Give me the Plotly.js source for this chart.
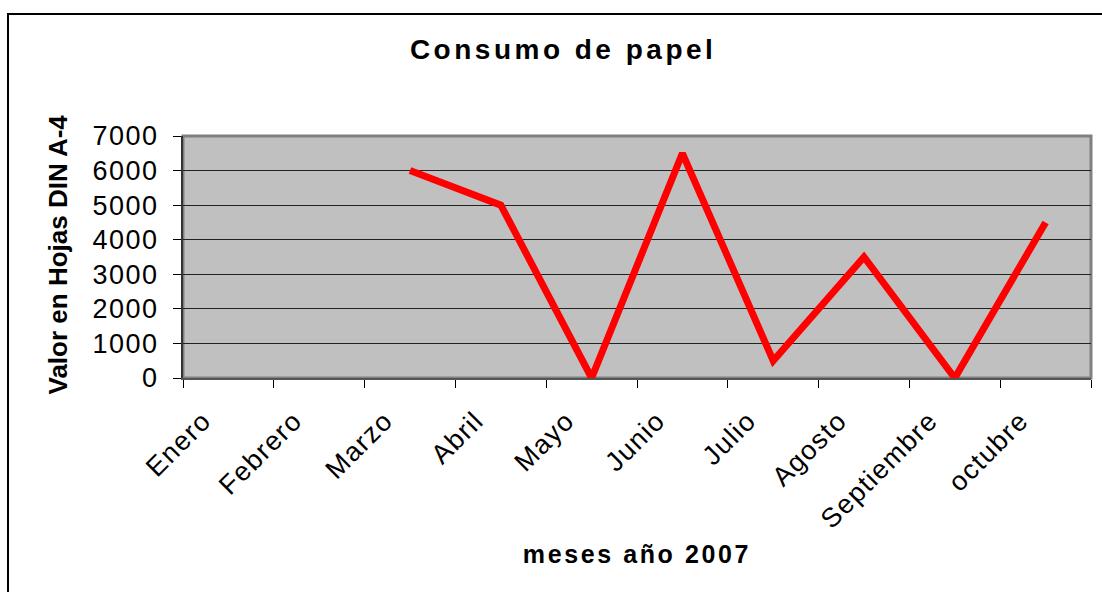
<!DOCTYPE html>
<html>
<head>
<meta charset="utf-8">
<script src="https://cdn.plot.ly/plotly-3.0.1.min.js"></script>
<style>
  html, body { margin: 0; padding: 0; background: #fff; }
  #chart { width: 1102px; height: 592px; }
  .gtitle { letter-spacing: 3.5px; }
  .ytick text { letter-spacing: 1.5px; }
  .xtick text { letter-spacing: 1.4px; }
  g.annotation[data-index="0"] text { letter-spacing: 2.6px; }
</style>
</head>
<body>
<div id="chart"></div>
<script>
const months = ["Enero", "Febrero", "Marzo", "Abril", "Mayo", "Junio", "Julio", "Agosto", "Septiembre", "octubre"];
const sheets = [null, null, 6000, 5000, 0, 6500, 500, 3500, 0, 4500];
const yTicks = [0, 1000, 2000, 3000, 4000, 5000, 6000, 7000];
const chartTitle = "Consumo de papel";
const xTitle = "meses año 2007";
const yTitle = "Valor en Hojas DIN A-4";

const FONT = "Liberation Sans, Arial, Helvetica, sans-serif";

const trace = {
  type: "scatter",
  mode: "lines",
  x: months,
  y: sheets,
  connectgaps: false,
  cliponaxis: false,
  line: { color: "#ff0000", width: 7, shape: "linear" },
  hoverinfo: "x+y"
};

const layout = {
  width: 1102,
  height: 592,
  margin: { l: 183, r: 11, t: 136, b: 214 },
  paper_bgcolor: "#ffffff",
  plot_bgcolor: "#c0c0c0",
  showlegend: false,
  font: { family: FONT, color: "#000" },
  title: {
    text: "<b>" + chartTitle + "</b>",
    font: { family: FONT, size: 28, color: "#000" },
    xref: "container", yref: "container",
    x: 0.511, xanchor: "center",
    y: 1 - 49 / 592, yanchor: "middle"
  },
  xaxis: {
    type: "category",
    categoryorder: "array",
    categoryarray: months,
    range: [-0.5, 9.5],
    tickson: "boundaries",
    ticks: "outside",
    ticklen: 8,
    tickwidth: 1,
    tickcolor: "#000",
    showline: true,
    linecolor: "#555",
    linewidth: 2,
    showgrid: false,
    zeroline: false,
    tickangle: -45,
    tickfont: { family: FONT, size: 27, color: "#000" },
    ticklabelshift: -25,
    ticklabelstandoff: 14,
    automargin: false
  },
  yaxis: {
    range: [0, 7000],
    tickvals: yTicks,
    ticktext: yTicks.map(String),
    ticks: "outside",
    ticklen: 8,
    tickwidth: 1,
    tickcolor: "#000",
    showline: true,
    linecolor: "#333",
    linewidth: 2,
    showgrid: true,
    gridcolor: "#222",
    gridwidth: 1.3,
    zeroline: false,
    tickfont: { family: FONT, size: 27, color: "#000" },
    ticklabelstandoff: 9,
    automargin: false
  },
  annotations: [
    {
      text: "<b>" + xTitle + "</b>",
      xref: "paper", yref: "paper",
      x: (637 - 183) / 908, y: (378 - 554) / 242,
      xanchor: "center", yanchor: "middle",
      showarrow: false,
      font: { family: FONT, size: 25, color: "#000" }
    },
    {
      text: "<b>" + yTitle + "</b>",
      xref: "paper", yref: "paper",
      x: (57 - 183) / 908, y: (378 - 254.5) / 242,
      xanchor: "center", yanchor: "middle",
      textangle: -90,
      showarrow: false,
      font: { family: FONT, size: 26, color: "#000" }
    }
  ],
  shapes: [
    {
      type: "rect", xref: "paper", yref: "paper", layer: "below",
      x0: 0, x1: 1, y0: 0, y1: 1,
      line: { color: "#808080", width: 3 }
    },
    {
      type: "rect", xref: "paper", yref: "paper", layer: "above",
      x0: (8 - 183) / 908, x1: 1.2, y0: -2, y1: (378 - 14) / 242,
      line: { color: "#000", width: 2 }
    }
  ]
};

Plotly.newPlot("chart", [trace], layout, { displayModeBar: false });
</script>
</body>
</html>
